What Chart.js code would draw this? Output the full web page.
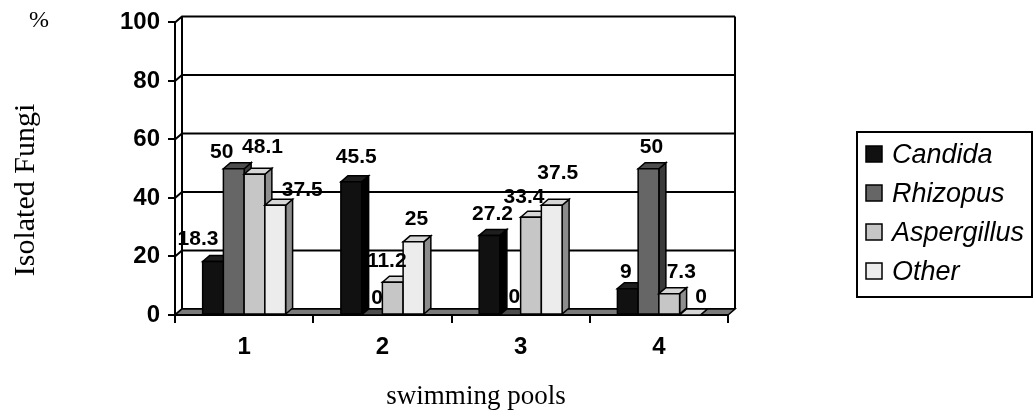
<!DOCTYPE html>
<html>
<head>
<meta charset="utf-8">
<script src="https://cdn.jsdelivr.net/npm/chart.js@4/dist/chart.umd.min.js"></script>
<style>
  html, body { margin: 0; padding: 0; background: #fff; }
  #wrap { width: 1034px; height: 416px; }
</style>
</head>
<body>
<div id="wrap"><canvas id="c" width="1034" height="416"></canvas></div>
<script>
// Isolated fungi (%) per swimming pool
const pools = ['1', '2', '3', '4'];
const candida = [18.3, 45.5, 27.2, 9];
const rhizopus = [50, 0, 0, 50];
const aspergillus = [48.1, 11.2, 33.4, 7.3];
const other = [37.5, 25, 37.5, 0];
const seriesNames = ['Candida', 'Rhizopus', 'Aspergillus', 'Other'];
const yTicks = [0, 20, 40, 60, 80, 100];

// face shades for each series: front, top, side
const shades = [
  { front: '#111111', top: '#1e1e1e', side: '#000000' },
  { front: '#666666', top: '#4d4d4d', side: '#3a3a3a' },
  { front: '#c6c6c6', top: '#d6d6d6', side: '#8f8f8f' },
  { front: '#ececec', top: '#d6d6d6', side: '#8c8c8c' }
];

// value-label nudges [dx, dy] by series, per pool, to keep labels apart
const labelNudge = [
  [[-18, -1], [2, -4], [0, 0], [-5, 5]],
  [[-15, 5], [2, 4], [1, 3], [0, 0]],
  [[5, -6], [-9, 0], [-10, 1], [9, 0]],
  [[24, 6], [0, -2], [3, -11], [8, 3]]
];

const DX = 7, DY = 6;           // oblique depth of walls and bars
const SANS = '"Liberation Sans", Arial, sans-serif';
const SERIF = '"Liberation Serif", "Times New Roman", serif';

function poly(ctx, pts, fill) {
  ctx.beginPath();
  pts.forEach((p, k) => k ? ctx.lineTo(p[0], p[1]) : ctx.moveTo(p[0], p[1]));
  ctx.closePath();
  if (fill) { ctx.fillStyle = fill; ctx.fill(); }
  ctx.stroke();
}

const box3d = {
  id: 'box3d',
  beforeDatasetsDraw(chart) {
    const { ctx, chartArea: a, scales: { y } } = chart;
    ctx.save();
    ctx.strokeStyle = '#000';
    ctx.lineWidth = 2;
    // back wall gridlines with their joins to the front axis
    yTicks.forEach(v => {
      const py = y.getPixelForValue(v);
      ctx.beginPath();
      ctx.moveTo(a.left, py);
      ctx.lineTo(a.left + DX, py - DY);
      ctx.lineTo(a.right + DX, py - DY);
      ctx.stroke();
    });
    // left wall back edge and right wall edge
    const top = y.getPixelForValue(100), zero = y.getPixelForValue(0);
    ctx.beginPath();
    ctx.moveTo(a.left + DX, top - DY); ctx.lineTo(a.left + DX, zero - DY);
    ctx.moveTo(a.right + DX, top - DY); ctx.lineTo(a.right + DX, zero - DY);
    ctx.stroke();
    // floor
    ctx.lineWidth = 1.5;
    poly(ctx, [[a.left, zero], [a.left + DX, zero - DY], [a.right + DX, zero - DY], [a.right, zero]], '#7a7a7a');
    ctx.lineWidth = 2;
    ctx.beginPath(); ctx.moveTo(a.left, zero); ctx.lineTo(a.right, zero); ctx.stroke();
    ctx.restore();
  },
  afterDatasetsDraw(chart) {
    const { ctx } = chart;
    const n = chart.data.labels.length;
    ctx.save();
    ctx.strokeStyle = '#000';
    ctx.lineWidth = 1.5;
    ctx.lineJoin = 'miter';
    for (let i = 0; i < n; i++) {
      chart.data.datasets.forEach((ds, d) => {
        const el = chart.getDatasetMeta(d).data[i];
        const { x, y, base, width } = el.getProps(['x', 'y', 'base', 'width'], true);
        const l = x - width / 2, r = x + width / 2;
        const s = shades[d];
        poly(ctx, [[r, y], [r + DX, y - DY], [r + DX, base - DY], [r, base]], s.side);
        poly(ctx, [[l, y], [l + DX, y - DY], [r + DX, y - DY], [r, y]], s.top);
        if (base - y > 0.5) poly(ctx, [[l, y], [r, y], [r, base], [l, base]], s.front);
      });
    }
    // value labels
    ctx.fillStyle = '#000';
    ctx.font = 'bold 21px ' + SANS;
    ctx.textAlign = 'center';
    ctx.textBaseline = 'middle';
    chart.data.datasets.forEach((ds, d) => {
      chart.getDatasetMeta(d).data.forEach((el, i) => {
        const nd = labelNudge[d][i];
        ctx.fillText(String(ds.data[i]), el.x + 3 + nd[0], el.y - 21 + nd[1]);
      });
    });
    ctx.restore();
  },
  afterDraw(chart) {
    const { ctx } = chart;
    ctx.save();
    ctx.fillStyle = '#000';
    // axis titles
    ctx.font = '30px ' + SERIF;
    ctx.textAlign = 'center';
    ctx.textBaseline = 'middle';
    ctx.save();
    ctx.translate(26, 190);
    ctx.rotate(-Math.PI / 2);
    ctx.fillText('Isolated Fungi', 0, 0);
    ctx.restore();
    ctx.font = '27px ' + SERIF;
    ctx.fillText('swimming pools', 476, 397);
    ctx.font = '24px ' + SERIF;
    ctx.fillText('%', 39, 21);

    // legend
    const lx = 857, ly = 132, lw = 175, lh = 165;
    ctx.strokeStyle = '#000';
    ctx.lineWidth = 2;
    ctx.strokeRect(lx, ly, lw, lh);
    ctx.font = 'italic 27px ' + SANS;
    ctx.textAlign = 'left';
    seriesNames.forEach((name, k) => {
      const cy = 154 + k * 39;
      ctx.fillStyle = shades[k].front;
      ctx.lineWidth = 1.5;
      ctx.fillRect(866, cy - 8, 16, 16);
      ctx.strokeRect(866, cy - 8, 16, 16);
      ctx.fillStyle = '#000';
      ctx.fillText(name, 892, cy + 1);
    });
    ctx.restore();
  }
};

const seriesValues = [candida, rhizopus, aspergillus, other];

new Chart(document.getElementById('c'), {
  type: 'bar',
  data: {
    labels: pools,
    datasets: seriesNames.map((name, k) => ({
      label: name,
      data: seriesValues[k],
      backgroundColor: shades[k].front,
      borderColor: '#000',
      borderWidth: 0
    }))
  },
  options: {
    responsive: false,
    animation: false,
    events: [],
    layout: { padding: { top: 22, right: 306, left: 0, bottom: 0 } },
    datasets: { bar: { categoryPercentage: 0.6, barPercentage: 1 } },
    plugins: { legend: { display: false }, tooltip: { enabled: false } },
    scales: {
      x: {
        grid: { offset: true, drawOnChartArea: false, drawTicks: true, tickLength: 8, color: '#000', lineWidth: 2 },
        border: { display: true, color: '#000', width: 2 },
        ticks: { color: '#000', padding: 10, font: { family: SANS, weight: 'bold', size: 24 } },
        afterFit(s) { s.height = 101; }
      },
      y: {
        min: 0, max: 100,
        afterBuildTicks(s) { s.ticks = yTicks.map(v => ({ value: v })); },
        grid: { drawOnChartArea: false, drawTicks: true, tickLength: 7, color: '#000', lineWidth: 2 },
        border: { display: true, color: '#000', width: 2 },
        ticks: { color: '#000', padding: 8, font: { family: SANS, weight: 'bold', size: 24 } },
        afterFit(s) { s.width = 175; }
      }
    }
  },
  plugins: [box3d]
});
</script>
</body>
</html>
